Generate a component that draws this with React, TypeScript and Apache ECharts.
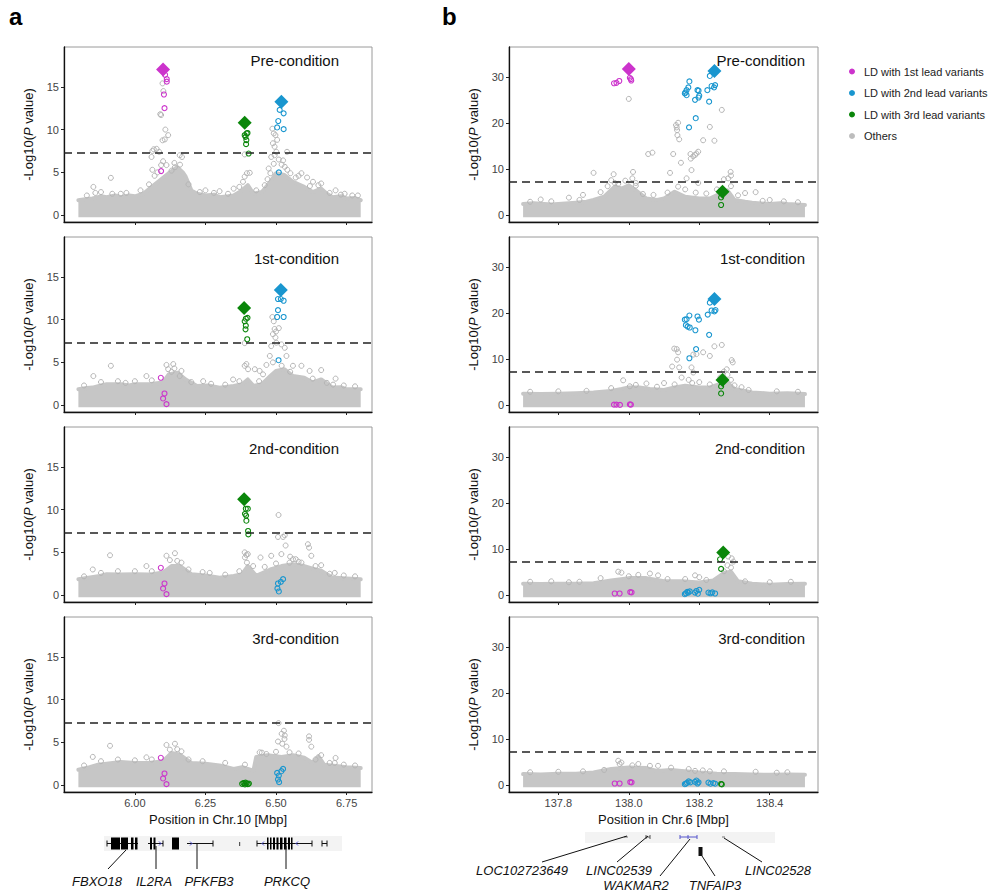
import React, { useEffect, useRef } from 'react';
import * as echarts from 'echarts';

const FONT = '"Liberation Sans", Arial, Helvetica, sans-serif';
const PINK = '#cc33cc';
const BLUE = '#1996cf';
const GREEN = '#0a860a';
const GRAY = '#bdbdbd';
const BAND = '#c6c6c6';

const LEGEND_NAMES = ['LD with 1st lead variants', 'LD with 2nd lead variants', 'LD with 3rd lead variants', 'Others'];
const LEGEND_COLORS = [PINK, BLUE, GREEN, GRAY];
const PANEL_TITLES = ['Pre-condition', '1st-condition', '2nd-condition', '3rd-condition'];
const CHR10_X_TICKS = [6.0, 6.25, 6.5, 6.75];
const CHR6_X_TICKS = [137.8, 138.0, 138.2, 138.4];
const CHR10_Y_TICKS = [0, 5, 10, 15];
const CHR6_Y_TICKS = [0, 10, 20, 30];
const SIG_LINE = 7.3;

type P = [number, number][];

// ---------- Chr.10 (panel a) ----------
const chr10BandPre: P = [[5.80,1.75],[5.83,1.9],[5.85,1.95],[5.88,2.2],[5.90,2.1],[5.93,2.3],[5.95,2.1],[5.98,2.3],[6.00,2.2],[6.03,2.5],[6.06,3.3],[6.09,4.1],[6.12,4.9],[6.15,5.6],[6.17,5.0],[6.18,4.5],[6.20,2.9],[6.22,2.5],[6.25,2.3],[6.28,2.4],[6.30,2.1],[6.33,2.2],[6.35,2.3],[6.38,2.9],[6.40,3.5],[6.42,2.5],[6.45,2.7],[6.48,3.9],[6.50,4.9],[6.53,4.7],[6.56,3.9],[6.60,3.3],[6.63,2.7],[6.66,3.1],[6.68,2.5],[6.70,2.1],[6.73,2.2],[6.75,1.95],[6.78,2.0],[6.80,1.75]];
const chr10Band1st: P = [[5.80,1.85],[5.83,2.0],[5.85,2.05],[5.88,2.3],[5.90,2.45],[5.95,2.45],[5.98,2.3],[6.00,2.45],[6.05,2.45],[6.10,2.65],[6.12,3.6],[6.15,3.8],[6.18,3.0],[6.22,2.25],[6.26,2.3],[6.30,2.05],[6.35,2.25],[6.38,2.45],[6.40,3.0],[6.42,2.25],[6.45,2.45],[6.48,3.4],[6.50,4.0],[6.53,4.2],[6.56,3.4],[6.60,3.2],[6.63,2.65],[6.66,3.0],[6.70,2.05],[6.73,2.1],[6.75,1.85],[6.80,1.85]];
const chr10Band2nd: P = [[5.80,1.85],[5.83,2.0],[5.87,2.2],[5.90,2.45],[5.95,2.4],[6.00,2.45],[6.05,2.4],[6.10,2.65],[6.13,3.4],[6.16,3.4],[6.20,2.45],[6.25,2.3],[6.30,2.05],[6.35,2.25],[6.38,2.45],[6.40,3.4],[6.43,2.25],[6.48,3.0],[6.52,3.4],[6.56,3.6],[6.60,3.4],[6.63,3.1],[6.66,2.85],[6.70,2.05],[6.75,1.95],[6.80,1.85]];
const chr10Band3rd: P = [[5.80,1.8],[5.84,2.1],[5.87,2.4],[5.90,2.5],[5.95,2.7],[6.00,2.6],[6.05,2.6],[6.10,2.8],[6.13,3.75],[6.16,3.55],[6.20,2.6],[6.25,2.5],[6.30,2.3],[6.35,1.9],[6.38,2.1],[6.42,1.7],[6.43,3.3],[6.47,3.5],[6.52,3.3],[6.56,3.5],[6.60,3.2],[6.63,2.6],[6.65,3.4],[6.67,2.4],[6.72,2.2],[6.75,2.1],[6.80,2.0]];

const chr10OthersPre: P = [[6.098,15.4],[6.101,14.5],[6.090,11.8],[6.093,11.7],[6.108,10.0],[6.118,9.35],[6.098,8.75],[6.106,8.85],[6.077,7.75],[6.067,7.7],[6.062,7.5],[6.086,7.4],[6.059,6.8],[6.093,5.85],[6.112,5.85],[6.062,5.3],[5.915,4.36],[5.853,3.3],[6.159,7.0],[6.167,6.8],[6.142,5.6],[6.130,5.2],[6.487,10.1],[6.492,9.55],[6.498,9.35],[6.489,8.4],[6.495,8.0],[6.501,7.4],[6.539,7.4],[6.483,6.8],[6.525,6.4],[6.531,5.65],[6.492,6.0],[6.474,5.45],[6.480,4.9],[6.551,4.9],[6.590,4.9],[6.631,3.9],[6.660,3.7],[6.711,2.9],[6.743,2.5],[6.790,2.3],[6.389,7.1],[6.389,4.5],[6.397,4.9],[6.407,4.95],[6.383,3.9],[6.504,8.8],[6.495,7.0],[6.510,6.5],[6.520,5.9],[6.580,4.6],[6.610,4.4],[5.880,2.7],[5.950,2.5],[6.250,2.9],[6.300,2.8],[6.350,3.1],
  [5.83,2.3],[5.86,2.6],[5.92,2.5],[5.97,2.6],[6.02,2.9],[6.05,3.6],[6.07,4.6],[6.14,6.1],[6.16,5.9],[6.19,3.6],[6.23,2.7],[6.28,2.6],[6.33,2.5],[6.37,3.3],[6.43,2.9],[6.46,3.5],[6.57,4.4],[6.62,3.4],[6.65,3.5],[6.69,2.6],[6.73,2.4],[6.77,2.3],[6.10,6.3],[6.08,5.0],[6.54,5.3],[6.47,4.2]];
const chr10Others1st: P = [[6.487,10.3],[6.492,9.8],[6.495,8.9],[6.489,8.3],[6.498,7.9],[6.501,7.3],[6.483,6.9],[6.519,7.1],[6.531,6.7],[6.537,5.75],[6.478,5.75],[6.489,5.0],[6.466,4.7],[6.560,4.6],[6.590,4.6],[6.619,4.0],[6.660,4.1],[6.711,3.1],[6.702,2.4],[6.389,4.6],[6.395,4.8],[6.401,4.2],[5.915,4.6],[5.853,3.4],[6.112,4.7],[6.136,4.8],[6.118,4.2],[6.130,3.9],[6.159,3.4],[6.165,4.0],[6.041,3.4],[5.967,2.6],[6.242,2.8],[6.348,3.0],[6.425,4.2],[6.442,4.0],[6.454,3.6],[6.389,7.25],[6.510,9.0],[6.500,8.6],
  [5.82,2.3],[5.88,2.7],[5.94,2.8],[6.00,2.8],[6.06,2.9],[6.14,4.3],[6.20,2.7],[6.27,2.5],[6.32,2.4],[6.37,2.8],[6.44,2.8],[6.52,4.6],[6.55,3.9],[6.63,3.1],[6.68,2.6],[6.74,2.3],[6.78,2.2]];
const chr10Others2nd: P = [[6.509,9.37],[6.507,6.8],[6.525,6.8],[6.531,7.0],[6.534,5.8],[6.519,4.8],[6.483,4.6],[6.560,4.2],[6.613,5.95],[6.617,5.55],[6.625,4.6],[6.660,3.5],[6.708,2.6],[6.389,5.0],[6.395,4.7],[6.397,3.8],[6.419,3.4],[6.445,4.4],[5.912,4.66],[5.851,3.0],[6.112,4.6],[6.142,4.9],[6.124,4.1],[6.165,3.8],[6.041,3.4],[6.265,2.6],[6.548,3.8],[6.390,4.4],[6.400,4.8],[6.550,4.5],[6.570,4.2],[6.580,3.9],
  [5.82,2.2],[5.88,2.6],[5.94,2.8],[6.00,2.8],[6.06,2.8],[6.15,4.0],[6.19,3.0],[6.24,2.7],[6.32,2.4],[6.37,2.8],[6.46,3.3],[6.50,3.7],[6.59,3.8],[6.64,3.4],[6.69,2.5],[6.74,2.3],[6.78,2.2]];
const chr10Others3rd: P = [[6.509,7.25],[6.528,6.36],[6.531,5.81],[6.507,5.1],[6.522,4.84],[6.537,4.5],[6.617,5.7],[6.617,5.3],[6.625,4.5],[5.912,4.6],[5.851,3.3],[6.112,4.7],[6.142,4.84],[6.124,4.15],[6.165,3.95],[6.041,3.25],[6.442,3.83],[6.466,3.64],[6.548,3.83],[6.660,3.5],[6.711,3.18],[6.708,2.6],[6.520,6.0],[6.530,5.4],
  [5.82,2.3],[5.88,2.8],[5.94,3.0],[6.00,2.9],[6.06,3.0],[6.15,4.2],[6.19,3.0],[6.24,2.8],[6.32,2.6],[6.39,2.4],[6.45,3.8],[6.50,3.9],[6.58,3.7],[6.64,3.0],[6.69,2.6],[6.74,2.4],[6.78,2.3]];

const chr10Ld1Pre: P = [[6.107,16.4],[6.113,15.9],[6.113,15.6],[6.103,14.1],[6.105,12.5],[6.093,5.15]];
const chr10Ld1Cond: P = [[6.092,3.2],[6.105,1.36],[6.100,0.78],[6.112,0.12]];
const chr10Ld2Pre: P = [[6.513,12.3],[6.527,11.9],[6.508,11.0],[6.504,10.25],[6.527,10.05],[6.510,5.0]];
const chr10Ld2First: P = [[6.507,12.4],[6.517,12.4],[6.527,12.2],[6.507,11.1],[6.504,10.3],[6.527,10.3],[6.509,5.25]];
const chr10Ld2Cond: P = [[6.525,1.87],[6.517,1.55],[6.507,1.36],[6.505,0.78],[6.510,0.43]];
const chr10Ld2Third: P = [[6.525,1.9],[6.519,1.63],[6.504,1.43],[6.510,1.12],[6.507,0.66],[6.511,0.35]];
const chr10Ld3Pre: P = [[6.396,9.54],[6.399,9.6],[6.389,9.35],[6.392,9.15],[6.395,8.77],[6.394,8.3],[6.403,7.2]];
const chr10Ld3First: P = [[6.393,10.1],[6.399,10.2],[6.389,9.8],[6.393,9.3],[6.392,8.86],[6.398,7.7]];
const chr10Ld3Second: P = [[6.393,10.1],[6.400,10.1],[6.390,9.5],[6.394,9.3],[6.395,8.7],[6.401,7.5],[6.402,7.1]];
const chr10Ld3Third: P = [[6.380,0.15],[6.385,0.25],[6.390,0.1],[6.395,0.2],[6.400,0.12],[6.404,0.18],[6.392,0.3]];

const chr10Lead1: P[] = [[[6.100,17.02]], [], [], []];
const chr10Lead2: P[] = [[[6.519,13.25]], [[6.517,13.45]], [], []];
const chr10Lead3: P[] = [[[6.389,10.79]], [[6.387,11.35]], [[6.387,11.2]], []];

// ---------- Chr.6 (panel b) ----------
const chr6BandPre: P = [[137.70,2.4],[137.73,2.6],[137.75,2.5],[137.78,2.3],[137.80,2.4],[137.83,2.6],[137.85,2.7],[137.88,2.9],[137.90,3.3],[137.93,4.0],[137.96,6.2],[137.98,5.8],[138.00,6.5],[138.02,5.4],[138.05,3.6],[138.08,3.3],[138.10,3.6],[138.13,5.1],[138.16,4.0],[138.20,3.6],[138.23,3.6],[138.26,4.7],[138.28,5.4],[138.30,3.3],[138.33,2.9],[138.35,2.7],[138.40,2.4],[138.43,2.6],[138.45,2.4],[138.50,2.2]];
const chr6Band1st: P = [[137.70,2.5],[137.75,2.4],[137.80,2.5],[137.85,2.6],[137.90,2.75],[137.95,3.1],[137.98,3.5],[138.00,3.85],[138.03,3.85],[138.06,3.5],[138.10,3.3],[138.13,3.85],[138.16,4.2],[138.20,3.85],[138.23,3.85],[138.26,4.6],[138.28,4.9],[138.30,3.5],[138.35,2.75],[138.40,2.5],[138.45,2.6],[138.50,2.4]];
const chr6Band2nd: P = [[137.70,2.5],[137.75,2.4],[137.80,2.5],[137.85,2.5],[137.90,2.6],[137.95,3.2],[138.00,3.7],[138.05,3.7],[138.10,3.0],[138.15,3.0],[138.20,2.75],[138.24,3.2],[138.27,4.8],[138.29,5.1],[138.31,3.0],[138.35,2.5],[138.40,2.25],[138.45,2.4],[138.50,2.5]];
const chr6Band3rd: P = [[137.70,2.4],[137.75,2.3],[137.80,2.5],[137.85,2.5],[137.90,2.75],[137.95,3.5],[138.00,3.85],[138.05,3.7],[138.08,3.1],[138.12,3.3],[138.15,3.1],[138.20,2.75],[138.25,2.5],[138.30,2.4],[138.35,2.3],[138.40,2.25],[138.45,2.3],[138.50,2.25]];

const chr6OthersPre: P = [[138.000,25.3],[138.264,22.9],[138.230,19.2],[138.243,16.2],[138.211,16.3],[138.143,16.5],[138.138,17.4],[138.134,19.6],[138.136,19.1],[138.137,18.5],[138.140,20.1],[138.126,13.3],[138.148,11.4],[138.176,12.3],[138.183,12.8],[138.188,13.1],[138.192,13.4],[138.197,13.8],[138.175,13.3],[138.055,13.3],[138.067,13.6],[138.117,9.2],[138.178,9.8],[138.197,7.0],[138.164,8.0],[137.900,9.2],[137.957,8.9],[138.012,9.4],[138.289,9.4],[138.282,8.0],[138.290,8.6],[138.270,7.8],[137.950,7.6],[137.990,7.5],[138.010,8.0],[138.020,7.0],[137.960,7.0],[137.830,3.8],[137.870,4.4],[138.360,5.0],[138.330,4.8],[138.400,3.3],[137.750,3.4],
  [137.72,2.9],[137.78,3.0],[137.86,3.3],[137.92,5.0],[137.94,6.3],[137.97,6.8],[138.02,6.4],[138.04,4.6],[138.07,4.4],[138.11,4.9],[138.14,6.2],[138.16,5.6],[138.19,4.9],[138.22,4.7],[138.25,5.6],[138.29,6.3],[138.31,4.3],[138.38,3.1],[138.44,3.0],[138.48,2.8]];
const chr6Others1st: P = [[138.264,13.1],[138.243,12.8],[138.230,10.7],[138.211,11.5],[138.129,12.3],[138.136,12.2],[138.140,11.5],[138.137,9.9],[138.143,8.2],[138.123,8.4],[138.183,11.0],[138.192,11.1],[138.178,8.2],[138.183,7.1],[138.292,9.8],[138.295,9.3],[138.278,7.8],[137.984,5.4],[138.003,4.1],[138.270,7.3],[138.280,6.6],[138.260,6.0],[138.290,5.5],[138.150,6.0],[138.170,5.5],[138.200,5.0],[138.100,4.8],[138.050,4.7],[138.300,4.3],[138.320,3.9],
  [137.72,2.9],[137.80,3.0],[137.88,3.1],[137.95,3.7],[138.02,4.4],[138.08,4.0],[138.13,4.5],[138.18,4.8],[138.23,4.5],[138.34,3.3],[138.42,3.0],[138.48,2.9]];
const chr6Others2nd: P = [[138.282,8.4],[138.292,8.0],[138.297,7.3],[138.280,6.5],[138.290,6.0],[138.270,5.2],[137.970,5.1],[137.979,4.9],[138.027,4.4],[138.060,4.7],[138.083,4.3],[138.188,4.3],[138.200,3.9],[137.920,3.7],[137.860,2.9],
  [137.72,2.9],[137.78,3.0],[137.83,2.8],[138.00,4.1],[138.11,3.5],[138.16,3.5],[138.22,3.3],[138.33,3.0],[138.40,2.8],[138.46,2.9]];
const chr6Others3rd: P = [[137.970,5.3],[137.979,4.9],[137.974,4.6],[138.027,4.6],[138.060,4.2],[138.083,4.2],[138.188,3.1],[138.210,3.2],[138.230,3.0],[137.930,3.3],[138.360,2.9],[138.450,2.8],
  [137.72,2.8],[137.80,2.9],[137.87,3.0],[138.01,4.3],[138.12,3.8],[138.17,3.5],[138.27,3.0],[138.42,2.7]];

const chr6Ld1Pre: P = [[137.958,28.7],[137.965,28.8],[137.973,29.2],[138.003,29.9],[138.006,29.6],[138.007,29.3]];
const chr6Ld1First: P = [[137.958,0.1],[137.965,0.1],[137.975,0.05],[138.003,0.15],[138.006,0.1]];
const chr6Ld1Later: P = [[137.960,0.35],[137.974,0.35],[138.004,0.65],[138.008,0.6]];
const chr6Ld2Pre: P = [[138.230,30.3],[138.235,28.1],[138.242,27.8],[138.245,28.3],[138.223,27.2],[138.228,24.7],[138.172,29.1],[138.169,27.8],[138.164,27.2],[138.159,26.5],[138.164,26.1],[138.161,26.7],[138.195,27.2],[138.198,27.1],[138.200,26.0],[138.198,25.6],[138.188,25.1],[138.190,21.1],[138.171,19.1]];
const chr6Ld2First: P = [[138.230,22.3],[138.235,20.6],[138.243,20.4],[138.246,20.7],[138.224,19.7],[138.228,15.3],[138.172,19.5],[138.164,18.7],[138.159,18.6],[138.162,17.4],[138.167,17.1],[138.173,16.9],[138.195,19.3],[138.199,18.6],[138.189,16.3],[138.191,12.2],[138.172,10.2]];
const chr6Ld2Second: P = [[138.159,0.2],[138.169,0.55],[138.173,0.8],[138.188,0.55],[138.192,0.9],[138.200,1.15],[138.226,0.55],[138.232,0.4],[138.245,0.35],[138.162,0.4],[138.166,0.7],[138.196,0.3],[138.237,0.6]];
const chr6Ld2Third: P = [[138.159,0.2],[138.165,0.5],[138.170,0.8],[138.175,0.6],[138.188,0.7],[138.192,1.0],[138.198,0.6],[138.226,0.55],[138.232,0.3],[138.240,0.45],[138.245,0.3],[138.162,0.3],[138.195,0.35]];
const chr6Ld3Pre: P = [[138.262,3.85],[138.262,2.2]];
const chr6Ld3First: P = [[138.262,4.07],[138.262,2.54]];
const chr6Ld3Second: P = [[138.259,7.8],[138.262,5.7]];
const chr6Ld3Third: P = [[138.262,0.25],[138.264,0.15]];

const chr6Lead1: P[] = [[[138.000,31.8]], [], [], []];
const chr6Lead2: P[] = [[[138.243,31.4]], [[138.243,23.1]], [], []];
const chr6Lead3: P[] = [[[138.266,5.08]], [[138.266,5.45]], [[138.268,9.28]], []];

const COLUMNS = [
  {
    bands: [chr10BandPre, chr10Band1st, chr10Band2nd, chr10Band3rd],
    others: [chr10OthersPre, chr10Others1st, chr10Others2nd, chr10Others3rd],
    ld1: [chr10Ld1Pre, chr10Ld1Cond, chr10Ld1Cond, chr10Ld1Cond],
    ld2: [chr10Ld2Pre, chr10Ld2First, chr10Ld2Cond, chr10Ld2Third],
    ld3: [chr10Ld3Pre, chr10Ld3First, chr10Ld3Second, chr10Ld3Third],
    lead1: chr10Lead1, lead2: chr10Lead2, lead3: chr10Lead3,
    xMin: 5.749, xMax: 6.84, yMin: -0.8, yMax: 19.65, bandBase: -0.25,
    xTicks: CHR10_X_TICKS, yTicks: CHR10_Y_TICKS, xDigits: 2,
    xName: 'Position in Chr.10 [Mbp]',
    left: 64, width: 308, titleRight: 339,
  },
  {
    bands: [chr6BandPre, chr6Band1st, chr6Band2nd, chr6Band3rd],
    others: [chr6OthersPre, chr6Others1st, chr6Others2nd, chr6Others3rd],
    ld1: [chr6Ld1Pre, chr6Ld1First, chr6Ld1Later, chr6Ld1Later],
    ld2: [chr6Ld2Pre, chr6Ld2First, chr6Ld2Second, chr6Ld2Third],
    ld3: [chr6Ld3Pre, chr6Ld3First, chr6Ld3Second, chr6Ld3Third],
    lead1: chr6Lead1, lead2: chr6Lead2, lead3: chr6Lead3,
    xMin: 137.66, xMax: 138.537, yMin: -1.5, yMax: 36.6, bandBase: -0.45,
    xTicks: CHR6_X_TICKS, yTicks: CHR6_Y_TICKS, xDigits: 1,
    xName: 'Position in Chr.6 [Mbp]',
    left: 509, width: 309, titleRight: 805,
  },
];

const TOP0 = 47;
const ROW_STEP = 190;
const GRID_H = 175;

function hollow(color: string) {
  return { color: 'rgba(0,0,0,0)', borderColor: color, borderWidth: 1.1, opacity: 1 };
}

function buildOption() {
  const grids: any[] = [];
  const xAxes: any[] = [];
  const yAxes: any[] = [];
  const series: any[] = [];
  const graphics: any[] = [];
  let k = 0;
  COLUMNS.forEach((col) => {
    for (let r = 0; r < 4; r++) {
      const top = TOP0 + ROW_STEP * r;
      const bottomRow = r === 3;
      grids.push({ left: col.left, top, width: col.width, height: GRID_H, show: true, borderColor: '#9a9a9a', borderWidth: 1, backgroundColor: 'rgba(0,0,0,0)' });
      xAxes.push({
        type: 'value', gridIndex: k, min: col.xMin, max: col.xMax,
        splitLine: { show: false },
        axisLine: { show: true, onZero: false, lineStyle: { color: '#111', width: 1.3 } },
        axisTick: { show: true, length: 3, customValues: col.xTicks, lineStyle: { color: '#222' } },
        axisLabel: { show: bottomRow, customValues: col.xTicks, fontSize: 11, color: '#444', margin: 5, formatter: (v: number) => v.toFixed(col.xDigits) },
        name: bottomRow ? col.xName : '', nameLocation: 'middle', nameGap: 21,
        nameTextStyle: { fontSize: 13, color: '#111' },
      });
      yAxes.push({
        type: 'value', gridIndex: k, min: col.yMin, max: col.yMax,
        splitLine: { show: false },
        axisLine: { show: true, onZero: false, lineStyle: { color: '#111', width: 1.3 } },
        axisTick: { show: true, length: 3, customValues: col.yTicks, lineStyle: { color: '#222' } },
        axisLabel: { customValues: col.yTicks, fontSize: 11, color: '#444', margin: 5 },
        name: '{a|-Log10(}{i|P}{a| value)}', nameLocation: 'middle', nameGap: 29,
        nameTextStyle: { rich: { a: { fontSize: 13, color: '#111' }, i: { fontSize: 13, color: '#111', fontStyle: 'italic' } } },
      });
      series.push({
        type: 'line', name: 'Others', xAxisIndex: k, yAxisIndex: k, data: col.bands[r],
        symbol: 'none', silent: true, z: 1,
        lineStyle: { color: BAND, width: 4, cap: 'round', join: 'round' },
        areaStyle: { color: BAND, opacity: 1, origin: col.bandBase },
        markLine: {
          silent: true, symbol: 'none', label: { show: false },
          lineStyle: { color: '#222', type: [8, 5], width: 1.5 },
          data: [{ yAxis: SIG_LINE }],
        },
      });
      series.push({ type: 'scatter', name: 'Others', xAxisIndex: k, yAxisIndex: k, data: col.others[r], symbol: 'circle', symbolSize: 5, z: 2, itemStyle: { color: 'rgba(0,0,0,0)', borderColor: '#b5b5b5', borderWidth: 1, opacity: 1 } });
      series.push({ type: 'scatter', name: LEGEND_NAMES[0], xAxisIndex: k, yAxisIndex: k, data: col.ld1[r], symbol: 'circle', symbolSize: 5, z: 3, itemStyle: hollow(PINK) });
      series.push({ type: 'scatter', name: LEGEND_NAMES[1], xAxisIndex: k, yAxisIndex: k, data: col.ld2[r], symbol: 'circle', symbolSize: 5, z: 3, itemStyle: hollow(BLUE) });
      series.push({ type: 'scatter', name: LEGEND_NAMES[2], xAxisIndex: k, yAxisIndex: k, data: col.ld3[r], symbol: 'circle', symbolSize: 5, z: 3, itemStyle: hollow(GREEN) });
      series.push({ type: 'scatter', name: LEGEND_NAMES[0], xAxisIndex: k, yAxisIndex: k, data: col.lead1[r], symbol: 'diamond', symbolSize: 14, z: 4, itemStyle: { color: PINK, opacity: 1 } });
      series.push({ type: 'scatter', name: LEGEND_NAMES[1], xAxisIndex: k, yAxisIndex: k, data: col.lead2[r], symbol: 'diamond', symbolSize: 14, z: 4, itemStyle: { color: BLUE, opacity: 1 } });
      series.push({ type: 'scatter', name: LEGEND_NAMES[2], xAxisIndex: k, yAxisIndex: k, data: col.lead3[r], symbol: 'diamond', symbolSize: 14, z: 4, itemStyle: { color: GREEN, opacity: 1 } });
      const ty = r === 0 ? 60 : top + 21;
      graphics.push({ type: 'text', x: col.titleRight, y: ty, style: { text: PANEL_TITLES[r], fontSize: 15, fill: '#111', align: 'right', verticalAlign: 'middle', fontFamily: FONT }, z: 10 });
      k++;
    }
  });

  // panel letters
  graphics.push({ type: 'text', x: 9, y: 16, style: { text: 'a', fontSize: 24, fontWeight: 'bold', fill: '#000', verticalAlign: 'middle', fontFamily: FONT } });
  graphics.push({ type: 'text', x: 442, y: 16, style: { text: 'b', fontSize: 24, fontWeight: 'bold', fill: '#000', verticalAlign: 'middle', fontFamily: FONT } });

  // gene track a
  const blk = '#000';
  const ln = (x1: number, y1: number, x2: number, y2: number, color = '#111', w = 1) => ({ type: 'line', shape: { x1, y1, x2, y2 }, style: { stroke: color, lineWidth: w }, silent: true });
  const rc = (x: number, y: number, w: number, h: number, fill = blk) => ({ type: 'rect', shape: { x, y, width: w, height: h }, style: { fill }, silent: true });
  const gtext = (t: string, x: number, y: number) => ({ type: 'text', x, y, style: { text: t, fontSize: 13, fontStyle: 'italic', fill: '#111', align: 'center', verticalAlign: 'middle', fontFamily: FONT }, silent: true });
  const gy = 843.5;
  graphics.push(rc(104, 836, 238, 15, '#f3f3f3'));
  graphics.push(ln(107, gy, 138, gy), ln(107, gy - 3, 107, gy + 3));
  graphics.push(rc(111, 837.5, 9, 12), rc(121, 837.5, 7, 12), rc(131, 837.5, 2.5, 12), rc(135, 837.5, 2.5, 12));
  graphics.push(ln(148, gy, 163, gy), rc(150, 837.5, 2, 12), rc(153.5, 837.5, 2, 12), ln(163, gy - 3, 163, gy + 3));
  graphics.push(ln(159, gy - 2, 161, gy, '#5555dd'), ln(161, gy, 159, gy + 2, '#5555dd'));
  graphics.push(rc(172, 837.5, 7, 12));
  graphics.push(ln(187, gy, 213, gy), ln(213, gy - 3, 213, gy + 3), ln(190, gy - 2, 192, gy, '#5555dd'), ln(192, gy, 190, gy + 2, '#5555dd'));
  graphics.push(rc(239, 842, 1.2, 4, '#555'));
  graphics.push(ln(257, gy, 312, gy), ln(257, gy - 3, 257, gy + 3), ln(312, gy - 3, 312, gy + 3));
  graphics.push(rc(267, 837.5, 1.5, 12), rc(270, 837.5, 1.5, 12), rc(273, 837.5, 2, 12), rc(276.5, 837.5, 2, 12), rc(280, 837.5, 2.5, 12), rc(284, 837.5, 2.5, 12), rc(288, 837.5, 2, 12), rc(291, 837.5, 1.5, 12));
  graphics.push(ln(264, gy - 2, 262, gy, '#5555dd'), ln(262, gy, 264, gy + 2, '#5555dd'), ln(298, gy - 2, 296, gy, '#5555dd'), ln(296, gy, 298, gy + 2, '#5555dd'));
  graphics.push(ln(322, gy, 327, gy), ln(322, gy - 3, 322, gy + 3), ln(327, gy - 3, 327, gy + 3));
  graphics.push(ln(108, 869, 126, 850), ln(156, 846, 156, 869), ln(197, 843, 197, 869), ln(286, 846, 286, 869));
  graphics.push(gtext('FBXO18', 97, 881), gtext('IL2RA', 154, 881), gtext('PFKFB3', 209, 881), gtext('PRKCQ', 287, 881));

  // gene track b
  const gy2 = 837;
  graphics.push(rc(585, 832, 190, 11, '#f3f3f3'));
  graphics.push(ln(624, gy2, 628, gy2, '#777'));
  graphics.push(ln(646, gy2, 650, gy2, '#555'), ln(646, gy2 - 2, 646, gy2 + 2, '#555'), ln(650, gy2 - 2, 650, gy2 + 2, '#555'));
  graphics.push(ln(680, gy2, 697, gy2, '#5555cc'), ln(680, gy2 - 2, 680, gy2 + 2, '#5555cc'), ln(688, gy2 - 2, 688, gy2 + 2, '#5555cc'), ln(697, gy2 - 2, 697, gy2 + 2, '#5555cc'));
  graphics.push(ln(722, gy2, 725, gy2, '#777'));
  graphics.push(rc(698.5, 847, 4, 9, '#111'));
  graphics.push(ln(542, 862, 627, 836), ln(617, 862, 648, 836), ln(660, 876, 690, 839), ln(715, 876, 702, 856), ln(762, 862, 724, 838));
  graphics.push(gtext('LOC102723649', 522, 870), gtext('LINC02539', 619, 870), gtext('WAKMAR2', 636, 885), gtext('TNFAIP3', 715, 885), gtext('LINC02528', 778, 870));

  return {
    animation: false,
    textStyle: { fontFamily: FONT },
    legend: {
      left: 844, top: 60, orient: 'vertical', itemWidth: 14, itemHeight: 6, itemGap: 8.5,
      selectedMode: false,
      textStyle: { fontSize: 11, color: '#222', lineHeight: 13 },
      data: LEGEND_NAMES.map((n, i) => ({ name: n, icon: 'circle', itemStyle: { color: LEGEND_COLORS[i], borderWidth: 0, opacity: 1 } })),
    },
    grid: grids,
    xAxis: xAxes,
    yAxis: yAxes,
    series,
    graphic: { elements: graphics },
  };
}

export default function App() {
  const ref = useRef<HTMLDivElement>(null);
  useEffect(() => {
    if (!ref.current) return;
    const chart = echarts.init(ref.current, undefined, { renderer: 'svg' });
    chart.setOption(buildOption() as any);
    return () => chart.dispose();
  }, []);
  return <div ref={ref} style={{ position: 'fixed', left: 0, top: 0, width: 989, height: 893, background: '#fff' }} />;
}
